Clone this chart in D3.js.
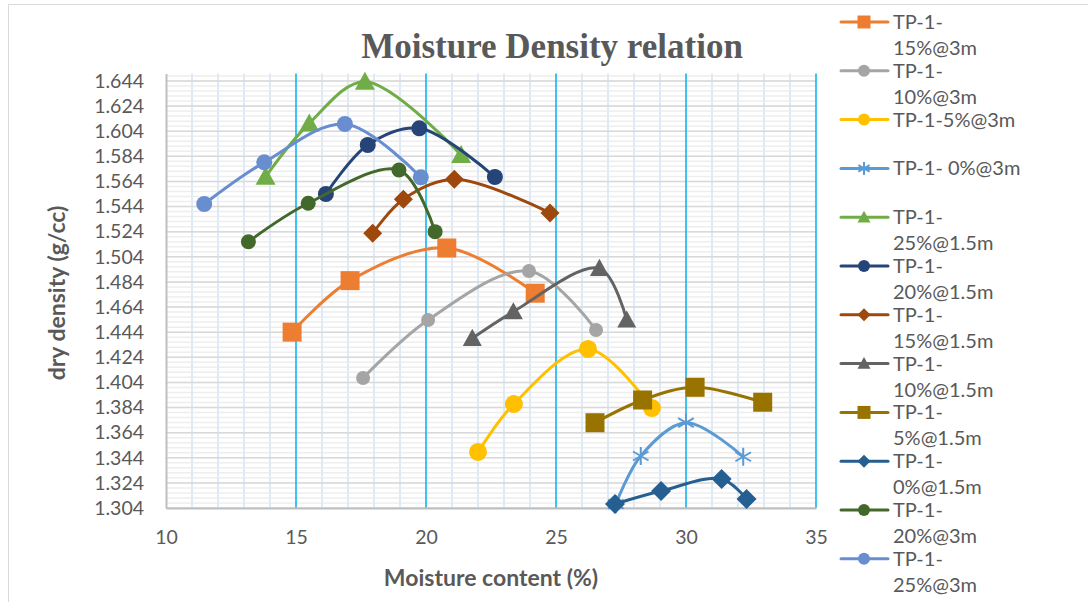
<!DOCTYPE html>
<html>
<head>
<meta charset="utf-8">
<script src="https://cdn.jsdelivr.net/npm/d3@7"></script>
<style>
  body { margin: 0; background: #fff; }
  svg text { font-family: Lato, "Liberation Sans", sans-serif; fill: #595959; }
</style>
</head>
<body>
<div id="chart"></div>
<script>
// series, in legend / drawing order
const seriesNames = [
  'TP-1-\n15%@3m', 'TP-1-\n10%@3m', 'TP-1-5%@3m', 'TP-1- 0%@3m',
  'TP-1-\n25%@1.5m', 'TP-1-\n20%@1.5m', 'TP-1-\n15%@1.5m', 'TP-1-\n10%@1.5m',
  'TP-1-\n5%@1.5m', 'TP-1-\n0%@1.5m', 'TP-1-\n20%@3m', 'TP-1-\n25%@3m'
];
// moisture content (%)
const moisture = [
  [14.85, 17.08, 20.8, 24.2],
  [17.58, 20.08, 23.96, 26.54],
  [22.0, 23.38, 26.23, 28.69],
  [27.3, 28.26, 30.0, 32.2],
  [13.83, 15.51, 17.65, 21.35],
  [16.15, 17.76, 19.74, 22.65],
  [17.95, 19.13, 21.09, 24.77],
  [21.78, 23.36, 26.67, 27.72],
  [26.5, 28.33, 30.35, 32.95],
  [27.27, 29.04, 31.37, 32.33],
  [13.17, 15.47, 18.96, 20.35],
  [11.47, 13.78, 16.88, 19.8]
];
// dry density (g/cc)
const density = [
  [1.444, 1.485, 1.511, 1.475],
  [1.4075, 1.4537, 1.4927, 1.4457],
  [1.3486, 1.3868, 1.4306, 1.3836],
  [1.307, 1.3454, 1.3719, 1.3448],
  [1.5678, 1.6102, 1.6434, 1.5851],
  [1.554, 1.593, 1.6063, 1.5675],
  [1.5227, 1.5498, 1.5657, 1.5389],
  [1.4391, 1.4603, 1.4948, 1.4537],
  [1.3719, 1.39, 1.4001, 1.3882],
  [1.3072, 1.3175, 1.3271, 1.3112],
  [1.516, 1.5466, 1.5731, 1.524],
  [1.546, 1.5792, 1.6097, 1.5673]
];
const xTicks = [10, 15, 20, 25, 30, 35];
const yTicks = d3.range(17, -1, -1).map(i => +(1.304 + i * 0.02).toFixed(3));

// look of each series
const styles = [
  { color: '#ed7d31', shape: 'square', size: 19 },
  { color: '#a5a5a5', shape: 'circle', size: 14 },
  { color: '#ffc000', shape: 'circle', size: 18 },
  { color: '#5b9bd5', shape: 'star', size: 18 },
  { color: '#70ad47', shape: 'triangle', size: 20 },
  { color: '#264478', shape: 'circle', size: 16 },
  { color: '#9e480e', shape: 'diamond', size: 19 },
  { color: '#636363', shape: 'triangle', size: 19 },
  { color: '#997300', shape: 'square', size: 19 },
  { color: '#255e91', shape: 'diamond', size: 20 },
  { color: '#43682b', shape: 'circle', size: 15 },
  { color: '#698ed0', shape: 'circle', size: 16 }
];

const width = 1088, height = 602;
const svg = d3.select('#chart').append('svg')
  .attr('width', width).attr('height', height);

// chart frame
svg.append('rect')
  .attr('x', 8.5).attr('y', 4.5)
  .attr('width', width + 10).attr('height', height + 10)
  .attr('fill', '#fff').attr('stroke', '#d9d9d9');

const x = d3.scaleLinear().domain([10, 35]).range([166, 816]);
const y = d3.scaleLinear().domain([1.304, 1.65]).range([508, 73.4]);

// minor horizontal grid (0.004)
const g = svg.append('g');
g.selectAll('line.hmin')
  .data(d3.range(0, 87).map(i => 1.304 + i * 0.004))
  .enter().append('line')
    .attr('x1', x(10)).attr('x2', x(35))
    .attr('y1', d => y(d)).attr('y2', d => y(d))
    .attr('stroke', '#eeeeee').attr('stroke-width', 1.5);
// minor vertical grid (1 %)
g.selectAll('line.vmin')
  .data(d3.range(11, 35).filter(v => v % 5 !== 0))
  .enter().append('line')
    .attr('x1', d => x(d)).attr('x2', d => x(d))
    .attr('y1', y.range()[1]).attr('y2', y(1.304))
    .attr('stroke', '#deebf7').attr('stroke-width', 2);
// major horizontal grid
g.selectAll('line.hmaj')
  .data(yTicks)
  .enter().append('line')
    .attr('x1', x(10)).attr('x2', x(35))
    .attr('y1', d => y(d)).attr('y2', d => y(d))
    .attr('stroke', '#d9d9d9').attr('stroke-width', 1.5);
// major vertical grid
g.selectAll('line.vmaj')
  .data(xTicks.slice(1))
  .enter().append('line')
    .attr('x1', d => x(d)).attr('x2', d => x(d))
    .attr('y1', y.range()[1]).attr('y2', y(1.304))
    .attr('stroke', '#00b0f0').attr('stroke-width', 1.5);

// axes
const xAxis = svg.append('g')
  .attr('transform', `translate(0,${y(1.304)})`)
  .call(d3.axisBottom(x).tickValues(xTicks).tickSize(0).tickPadding(22));
const yAxis = svg.append('g')
  .attr('transform', `translate(${x(10)},0)`)
  .call(d3.axisLeft(y).tickValues(yTicks).tickFormat(d3.format('.3f')).tickSize(0).tickPadding(22));
[xAxis, yAxis].forEach(a => {
  a.select('.domain').attr('stroke', '#bfbfbf').attr('stroke-width', 2);
  a.selectAll('text').style('font-size', '19.5px').attr('fill', '#595959');
});

// titles
svg.append('text')
  .attr('x', 552).attr('y', 58)
  .attr('text-anchor', 'middle')
  .style('font-family', '"Liberation Serif", "Times New Roman", serif')
  .style('font-size', '35px').style('font-weight', 'bold')
  .text('Moisture Density relation');
svg.append('text')
  .attr('x', 491).attr('y', 586)
  .attr('text-anchor', 'middle')
  .style('font-size', '23px').style('font-weight', 'bold')
  .text('Moisture content (%)');
svg.append('text')
  .attr('transform', 'translate(57,293) rotate(-90)')
  .attr('text-anchor', 'middle').attr('dy', '0.35em')
  .style('font-size', '23px').style('font-weight', 'bold')
  .text('dry density (g/cc)');

// marker drawing
function marker(sel, st, s) {
  const c = st.color;
  if (st.shape === 'star') {
    const r = s / 2, a = r * Math.cos(Math.PI / 6), b = r * 0.5;
    sel.append('path')
      .attr('d', `M0,${-r}L0,${r}M${-a},${-b}L${a},${b}M${-a},${b}L${a},${-b}`)
      .attr('stroke', c).attr('stroke-width', 2).attr('fill', 'none');
    return;
  }
  let p;
  if (st.shape === 'square') p = d3.symbol(d3.symbolSquare, s * s)();
  else if (st.shape === 'circle') p = d3.symbol(d3.symbolCircle, Math.PI * s * s / 4)();
  else if (st.shape === 'diamond') p = d3.symbol(d3.symbolSquare, s * s / 2)();
  else p = `M0,${-s * 0.5}L${s / 2},${s * 0.4}L${-s / 2},${s * 0.4}Z`;
  sel.append('path').attr('d', p).attr('fill', c)
    .attr('transform', st.shape === 'diamond' ? 'rotate(45)' : null);
}

const line = d3.line()
  .x(d => x(d[0])).y(d => y(d[1]))
  .curve(d3.curveCatmullRom.alpha(0.5));

seriesNames.forEach((name, i) => {
  const pts = moisture[i].map((m, j) => [m, density[i][j]]);
  const st = styles[i];
  const sg = svg.append('g').attr('class', 'series');
  sg.append('path')
    .attr('d', line(pts))
    .attr('fill', 'none').attr('stroke', st.color)
    .attr('stroke-width', 3).attr('stroke-linecap', 'round');
  sg.selectAll('g.pt')
    .data(pts).enter().append('g')
      .attr('transform', d => `translate(${x(d[0])},${y(d[1])})`)
      .each(function() { marker(d3.select(this), st, st.size); });
});

// legend
const legend = svg.append('g');
seriesNames.forEach((name, i) => {
  const st = styles[i];
  const cy = 22 + i * 48.8;
  const lg = legend.append('g').attr('transform', `translate(0,${cy})`);
  lg.append('line')
    .attr('x1', 841).attr('x2', 888)
    .attr('stroke', st.color).attr('stroke-width', 3).attr('stroke-linecap', 'round');
  const mg = lg.append('g').attr('transform', 'translate(864,0)');
  marker(mg, st, st.shape === 'circle' ? 12 : 13);
  name.split('\n').forEach((t, k) => {
    lg.append('text')
      .attr('x', 893).attr('y', k * 26)
      .attr('dy', '0.35em')
      .style('font-size', '20px')
      .text(t);
  });
});
</script>
</body>
</html>
